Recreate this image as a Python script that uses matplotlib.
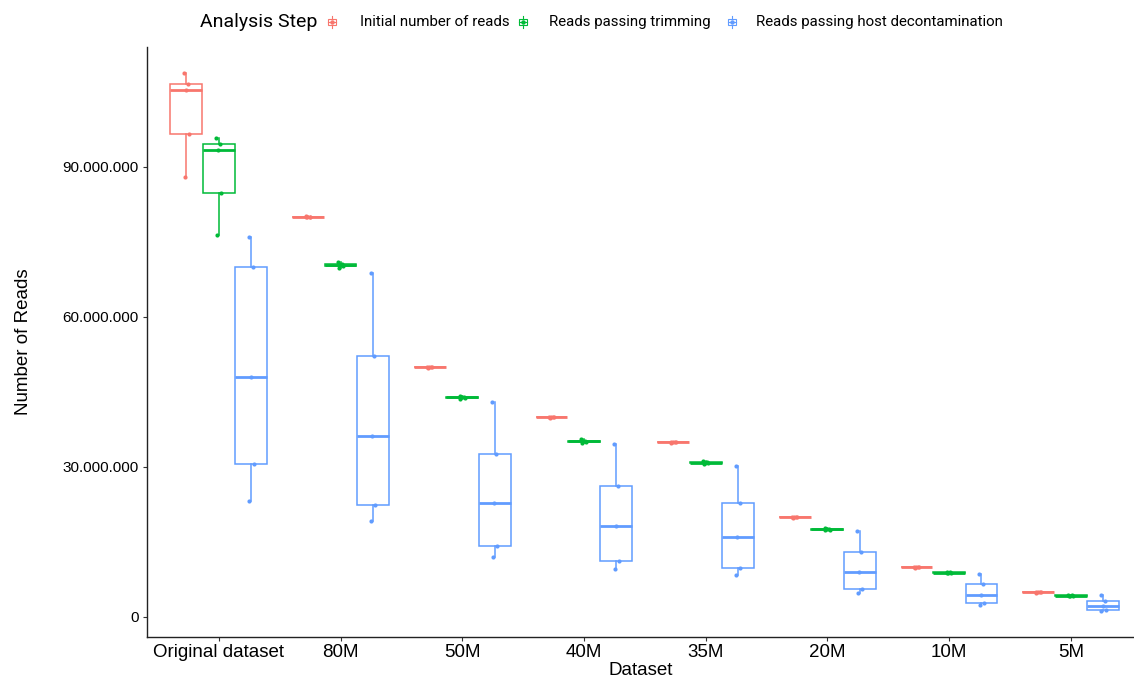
import matplotlib
matplotlib.use("Agg")
import matplotlib.pyplot as plt
from matplotlib.ticker import FuncFormatter
from matplotlib.patches import Rectangle
from matplotlib.lines import Line2D
from matplotlib.transforms import Affine2D, ScaledTranslation

plt.rcParams['font.family'] = ['Liberation Sans', 'DejaVu Sans']

datasets = ["Original dataset", "80M", "50M", "40M", "35M", "20M", "10M", "5M"]
steps = ["Initial number of reads", "Reads passing trimming", "Reads passing host decontamination"]
colors = ["#F8766D", "#00BA38", "#619CFF"]

# values in millions of reads, 5 samples per dataset
initial_reads = [
    [87.9, 96.6, 105.5, 106.6, 108.8],
    [79.9, 79.95, 80.0, 80.05, 80.1],
    [49.9, 49.95, 50.0, 50.05, 50.1],
    [39.9, 39.95, 40.0, 40.05, 40.1],
    [34.9, 34.95, 35.0, 35.05, 35.1],
    [19.9, 19.95, 20.0, 20.05, 20.1],
    [9.9, 9.95, 10.0, 10.05, 10.1],
    [4.9, 4.95, 5.0, 5.05, 5.1],
]
trimmed_reads = [
    [76.4, 84.7, 93.4, 94.6, 95.7],
    [69.8, 70.2, 70.4, 70.6, 70.9],
    [43.7, 43.9, 44.0, 44.1, 44.3],
    [34.9, 35.1, 35.2, 35.3, 35.6],
    [30.6, 30.8, 30.9, 31.0, 31.2],
    [17.4, 17.5, 17.6, 17.7, 17.8],
    [8.8, 8.85, 8.9, 8.95, 9.0],
    [4.2, 4.25, 4.3, 4.35, 4.4],
]
decontam_reads = [
    [23.2, 30.7, 48.1, 69.9, 75.9],
    [19.2, 22.5, 36.3, 52.3, 68.9],
    [12.0, 14.2, 22.8, 32.7, 43.1],
    [9.6, 11.3, 18.2, 26.2, 34.6],
    [8.4, 9.9, 16.0, 22.9, 30.3],
    [4.8, 5.7, 9.1, 13.1, 17.3],
    [2.4, 2.9, 4.5, 6.6, 8.7],
    [1.2, 1.4, 2.3, 3.3, 4.4],
]
y_ticks = [0, 30_000_000, 60_000_000, 90_000_000]

series = [initial_reads, trimmed_reads, decontam_reads]
jitter = [-0.015, 0.02, -0.005, 0.012, -0.02]

W, H = 1134, 684
fig = plt.figure(figsize=(W / 100, H / 100), dpi=100)
ax = fig.add_axes([147 / W, 1 - 637 / H, 1 - 147 / W, (637 - 47) / H])

dodge = 0.8 / 3
for s, (vals, col) in enumerate(zip(series, colors)):
    offset = (s - 1) * dodge
    data = [[v * 1e6 for v in group] for group in vals]
    pos = [i + offset for i in range(len(datasets))]
    ax.boxplot(data, positions=pos, widths=dodge * 0.98, whis=1.5, showfliers=False,
               patch_artist=True, manage_ticks=False,
               boxprops=dict(facecolor="white", edgecolor=col, linewidth=1.1),
               whiskerprops=dict(color=col, linewidth=1.1),
               capprops=dict(visible=False),
               medianprops=dict(color=col, linewidth=2.0))
    for i, group in enumerate(data):
        xs = [pos[i] + jitter[k % len(jitter)] for k in range(len(group))]
        ax.scatter(xs, group, s=9, color=col, zorder=3, linewidths=0)

ax.set_xlim(-0.59, 7.52)
ax.set_ylim(-4e6, 114e6)
ax.set_xticks(range(len(datasets)))
ax.set_xticklabels(datasets, fontsize=13.5)
shift = ScaledTranslation(4 / 100, 0, fig.dpi_scale_trans)
for lbl in ax.get_xticklabels():
    lbl.set_transform(lbl.get_transform() + shift)
ax.set_yticks(y_ticks)
ax.yaxis.set_major_formatter(FuncFormatter(lambda v, p: f"{int(v):,}".replace(",", ".")))
ax.tick_params(axis='y', labelsize=11, length=3, pad=3, color="#333333")
ax.tick_params(axis='x', length=3, pad=2, color="#333333")
for sp in ["top", "right"]:
    ax.spines[sp].set_visible(False)
for sp in ["left", "bottom"]:
    ax.spines[sp].set_linewidth(1.0)
    ax.spines[sp].set_color("#222222")
ax.set_xlabel("Dataset", fontsize=13.5, labelpad=1)
ax.set_ylabel("Number of Reads", fontsize=13.5, labelpad=22)

# legend drawn in figure pixel coordinates
pix = Affine2D().scale(1 / W, 1 / H) + fig.transFigure
def py(y):
    return H - y

fig.text(200 / W, 1 - 22 / H, "Analysis Step", fontsize=14, va="center", ha="left",
         family=['Roboto', 'DejaVu Sans'])
key_x = [332, 523, 732]
label_x = [360, 549, 756]
ky = 22
for kx, lx, col, lab in zip(key_x, label_x, colors, steps):
    bw, bh = 8, 6
    fig.add_artist(Rectangle((kx - bw / 2, py(ky + bh / 2)), bw, bh, facecolor="white",
                             edgecolor=col, linewidth=0.8, transform=pix))
    fig.add_artist(Line2D([kx - bw / 2, kx + bw / 2], [py(ky), py(ky)], color=col, linewidth=0.8, transform=pix))
    fig.add_artist(Line2D([kx, kx], [py(ky - 6), py(ky - bh / 2)], color=col, linewidth=0.8, transform=pix))
    fig.add_artist(Line2D([kx, kx], [py(ky + bh / 2), py(ky + 6)], color=col, linewidth=0.8, transform=pix))
    fig.add_artist(Line2D([kx], [py(ky)], marker='o', markersize=2.2, color=col, linestyle='none', transform=pix))
    fig.text(lx / W, 1 - ky / H, lab, fontsize=10.8, va="center", ha="left", family=['Roboto', 'DejaVu Sans'])

fig.savefig("out.png", dpi=100)
